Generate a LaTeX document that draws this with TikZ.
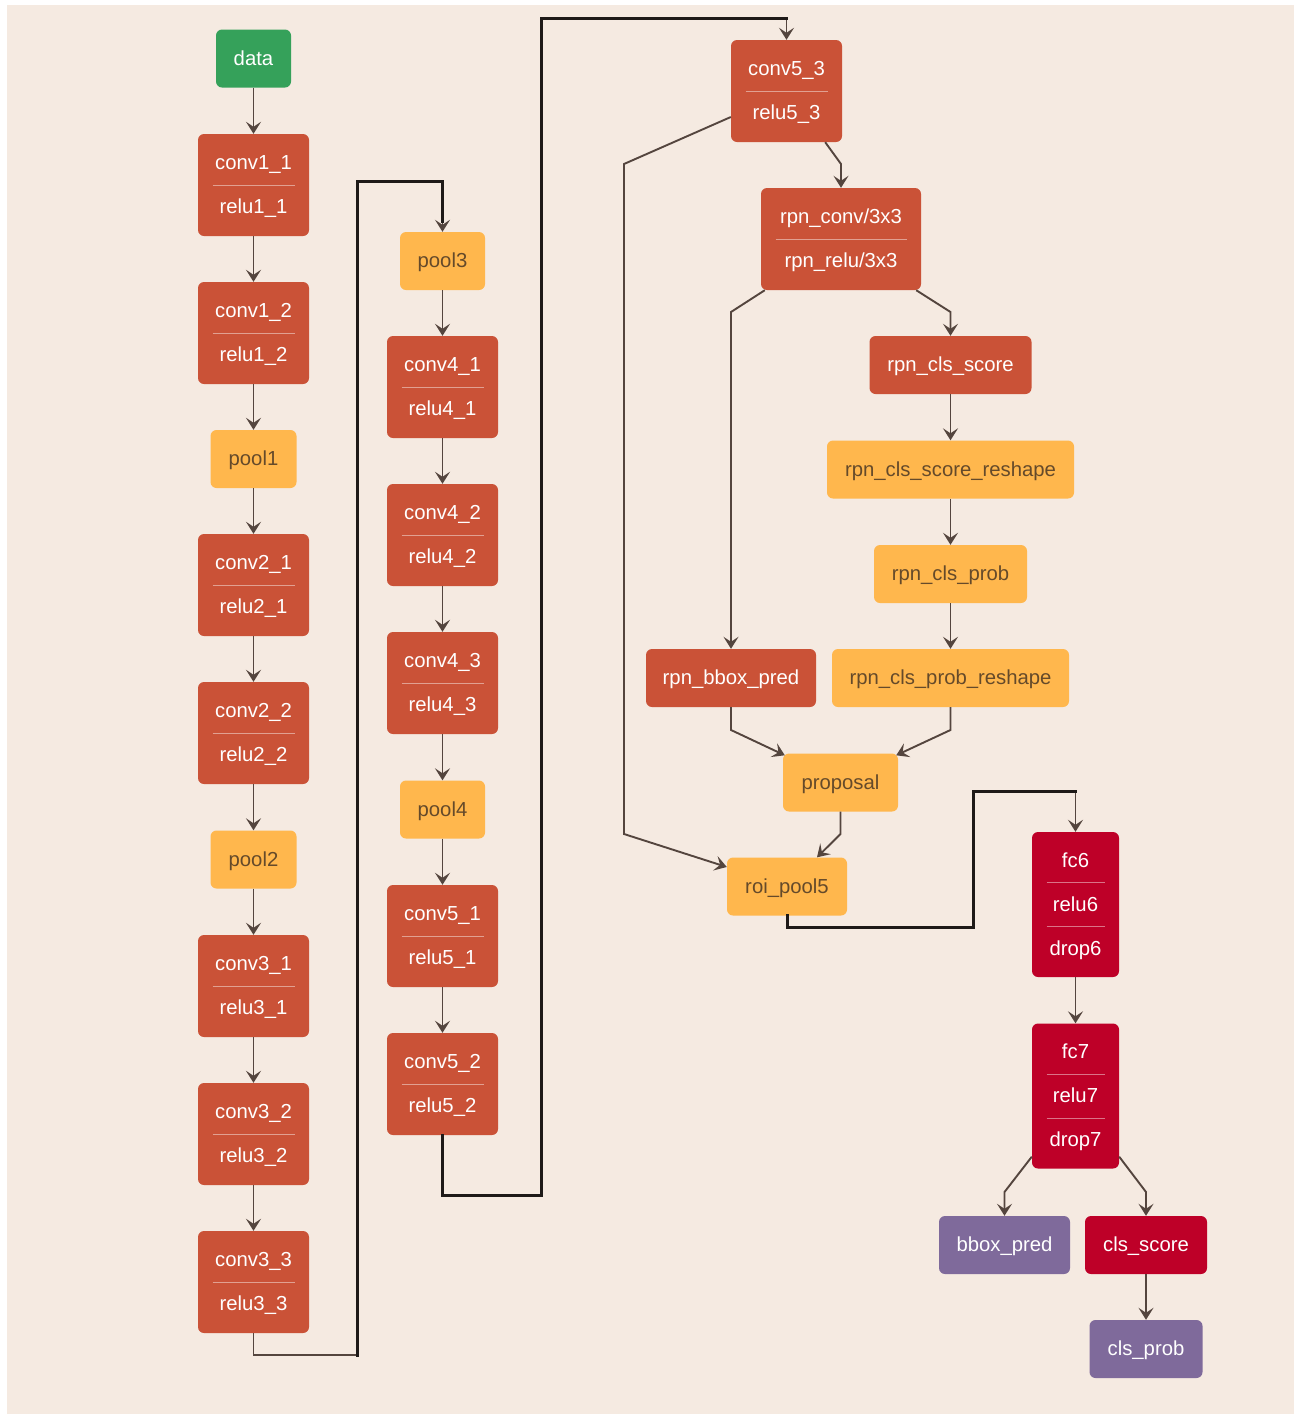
\documentclass[tikz,border=0pt]{standalone}
\usepackage{fontspec}
\setmainfont{Liberation Sans}
\usetikzlibrary{arrows.meta}
\definecolor{bgc}{HTML}{F5EAE1}
\definecolor{convc}{HTML}{CA5237}
\definecolor{poolc}{HTML}{FFB74D}
\definecolor{datac}{HTML}{35A15A}
\definecolor{fcc}{HTML}{BE0028}
\definecolor{purc}{HTML}{7F6A9B}
\definecolor{edgec}{HTML}{54453E}
\definecolor{darkc}{HTML}{1E1A18}
\definecolor{ptxtc}{HTML}{654A2A}
\tikzset{
  lbl/.style={font=\fontsize{20.3pt}{24pt}\selectfont, text height=13.5pt, text depth=0pt, inner sep=0pt},
  box/.style={rectangle, rounded corners=6pt, inner sep=0pt, draw=none, lbl, minimum height=58pt},
  convbox/.style={box, fill=convc, text=white},
  poolbox/.style={box, fill=poolc, text=ptxtc},
  databox/.style={box, fill=datac, text=white},
  fcbox/.style={box, fill=fcc, text=white},
  purbox/.style={box, fill=purc, text=white},
  wtxt/.style={lbl, text=white},
  sepline/.style={draw=white, draw opacity=0.45, line width=1pt},
  conn/.style={draw=edgec, line width=1.9pt, -{Stealth[length=12pt,width=15pt,inset=5pt]}},
  heavy/.style={draw=darkc, line width=3pt, line cap=rect, line join=miter}
}
% name, style, x, y, w, line1, line2
\newcommand\twobox[7]{%
  \node[#2, minimum width=#5pt, minimum height=102pt] (#1) at (#3,#4) {};
  \node[wtxt] (#1-a) at (#3,#4-22) {#6};
  \draw[sepline] (#3-#5/2+14.5,#4) -- (#3+#5/2-14.5,#4);
  \node[wtxt] (#1-b) at (#3,#4+22) {#7};
}
% name, x, y, line1, line2, line3
\newcommand\threebox[6]{%
  \node[fcbox, minimum width=87pt, minimum height=145pt] (#1) at (#2,#3) {};
  \node[wtxt] (#1-a) at (#2,#3-44) {#4};
  \draw[sepline] (#2-29,#3-22) -- (#2+29,#3-22);
  \node[wtxt] (#1-b) at (#2,#3) {#5};
  \draw[sepline] (#2-29,#3+22) -- (#2+29,#3+22);
  \node[wtxt] (#1-c) at (#2,#3+44) {#6};
}
\begin{document}
\begin{tikzpicture}[x=1pt,y=-1pt]
\useasboundingbox (0,0) rectangle (1301,1414);
\fill[white] (0,0) rectangle (1301,1414);
\fill[bgc] (7,5) rectangle (1294,1414);

% column 1
\node[databox, minimum width=75pt] (data) at (253.5,58.5) {data};
\twobox{conv1_1}{convbox}{253.5}{185}{111}{conv1\_1}{relu1\_1}
\twobox{conv1_2}{convbox}{253.5}{333}{111}{conv1\_2}{relu1\_2}
\node[poolbox, minimum width=86pt] (pool1) at (253.5,459) {pool1};
\twobox{conv2_1}{convbox}{253.5}{585}{111}{conv2\_1}{relu2\_1}
\twobox{conv2_2}{convbox}{253.5}{733}{111}{conv2\_2}{relu2\_2}
\node[poolbox, minimum width=86pt] (pool2) at (253.5,859.5) {pool2};
\twobox{conv3_1}{convbox}{253.5}{986}{111}{conv3\_1}{relu3\_1}
\twobox{conv3_2}{convbox}{253.5}{1134}{111}{conv3\_2}{relu3\_2}
\twobox{conv3_3}{convbox}{253.5}{1282}{111}{conv3\_3}{relu3\_3}

% column 2
\node[poolbox, minimum width=85pt] (pool3) at (442.5,261) {pool3};
\twobox{conv4_1}{convbox}{442.5}{387}{111}{conv4\_1}{relu4\_1}
\twobox{conv4_2}{convbox}{442.5}{535}{111}{conv4\_2}{relu4\_2}
\twobox{conv4_3}{convbox}{442.5}{683}{111}{conv4\_3}{relu4\_3}
\node[poolbox, minimum width=85pt] (pool4) at (442.5,809.5) {pool4};
\twobox{conv5_1}{convbox}{442.5}{936}{111}{conv5\_1}{relu5\_1}
\twobox{conv5_2}{convbox}{442.5}{1084}{111}{conv5\_2}{relu5\_2}

% column 3
\twobox{conv5_3}{convbox}{786.5}{91}{111}{conv5\_3}{relu5\_3}
\twobox{rpn_conv}{convbox}{841}{239}{160}{rpn\_conv/3x3}{rpn\_relu/3x3}
\node[convbox, minimum width=162pt] (rpn_cls_score) at (950.5,365) {rpn\_cls\_score};
\node[poolbox, minimum width=247pt] (rpn_cls_score_reshape) at (950.5,469.5) {rpn\_cls\_score\_reshape};
\node[poolbox, minimum width=153pt] (rpn_cls_prob) at (950.5,574) {rpn\_cls\_prob};
\node[poolbox, minimum width=237pt] (rpn_cls_prob_reshape) at (950.5,678) {rpn\_cls\_prob\_reshape};
\node[convbox, minimum width=170pt] (rpn_bbox_pred) at (731,678) {rpn\_bbox\_pred};
\node[poolbox, minimum width=115pt] (proposal) at (840.5,782.5) {proposal};
\node[poolbox, minimum width=120pt] (roi_pool5) at (787,886.5) {roi\_pool5};
\threebox{fc6}{1075.5}{904.5}{fc6}{relu6}{drop6}
\threebox{fc7}{1075.5}{1096}{fc7}{relu7}{drop7}
\node[purbox, minimum width=131pt] (bbox_pred) at (1004.5,1245) {bbox\_pred};
\node[fcbox, minimum width=122pt] (cls_score) at (1146,1245) {cls\_score};
\node[purbox, minimum width=113pt] (cls_prob) at (1146,1349) {cls\_prob};

% straight connectors
\draw[conn] (data.south) -- (conv1_1.north);
\draw[conn] (conv1_1.south) -- (conv1_2.north);
\draw[conn] (conv1_2.south) -- (pool1.north);
\draw[conn] (pool1.south) -- (conv2_1.north);
\draw[conn] (conv2_1.south) -- (conv2_2.north);
\draw[conn] (conv2_2.south) -- (pool2.north);
\draw[conn] (pool2.south) -- (conv3_1.north);
\draw[conn] (conv3_1.south) -- (conv3_2.north);
\draw[conn] (conv3_2.south) -- (conv3_3.north);
\draw[conn] (pool3.south) -- (conv4_1.north);
\draw[conn] (conv4_1.south) -- (conv4_2.north);
\draw[conn] (conv4_2.south) -- (conv4_3.north);
\draw[conn] (conv4_3.south) -- (pool4.north);
\draw[conn] (pool4.south) -- (conv5_1.north);
\draw[conn] (conv5_1.south) -- (conv5_2.north);
\draw[conn] (rpn_cls_score.south) -- (rpn_cls_score_reshape.north);
\draw[conn] (rpn_cls_score_reshape.south) -- (rpn_cls_prob.north);
\draw[conn] (rpn_cls_prob.south) -- (rpn_cls_prob_reshape.north);
\draw[conn] (fc6.south) -- (fc7.north);
\draw[conn] (cls_score.south) -- (cls_prob.north);

% routed connectors
\draw[conn] (conv3_3.south) -- (253.5,1355) -- (357,1355) -- (357,181) -- (442.5,181) -- (pool3.north);
\draw[heavy] (357,1355) -- (357,181) -- (442.5,181) -- ([yshift=10pt]pool3.north);
\draw[conn] (conv5_2.south) -- (442.5,1195.5) -- (541,1195.5) -- (541,18.5) -- (786.5,18.5) -- (conv5_3.north);
\draw[heavy] (conv5_2.south) -- (442.5,1195.5) -- (541,1195.5) -- (541,18.5) -- (786.5,18.5);
\draw[conn] (roi_pool5.south) -- (787,927) -- (973,927) -- (973,791) -- (1075.5,791) -- (fc6.north);
\draw[heavy] (roi_pool5.south) -- (787,927) -- (973,927) -- (973,791) -- (1075.5,791);

% diagonal connectors
\draw[conn] ([xshift=-17pt]conv5_3.south east) -- (841,164) -- (rpn_conv.north);
\draw[conn] ([yshift=-26pt]conv5_3.west) -- (624,164) -- (624,834) -- ([yshift=19.5pt]roi_pool5.west);
\draw[conn] ([xshift=4pt]rpn_conv.south west) -- (731,312) -- (rpn_bbox_pred.north);
\draw[conn] ([xshift=-5pt]rpn_conv.south east) -- (950.5,312) -- (rpn_cls_score.north);
\draw[conn] (rpn_bbox_pred.south) -- (731,730) -- ([xshift=2pt,yshift=-2pt]proposal.north west);
\draw[conn] (rpn_cls_prob_reshape.south) -- (950.5,730) -- ([xshift=-2pt,yshift=-2pt]proposal.north east);
\draw[conn] (proposal.south) -- (840.5,834) -- ([xshift=30pt]roi_pool5.north);
\draw[conn] ([yshift=12pt]fc7.south west) -- (1004.5,1192) -- (bbox_pred.north);
\draw[conn] ([yshift=12pt]fc7.south east) -- (1146,1192) -- (cls_score.north);
\end{tikzpicture}
\end{document}
